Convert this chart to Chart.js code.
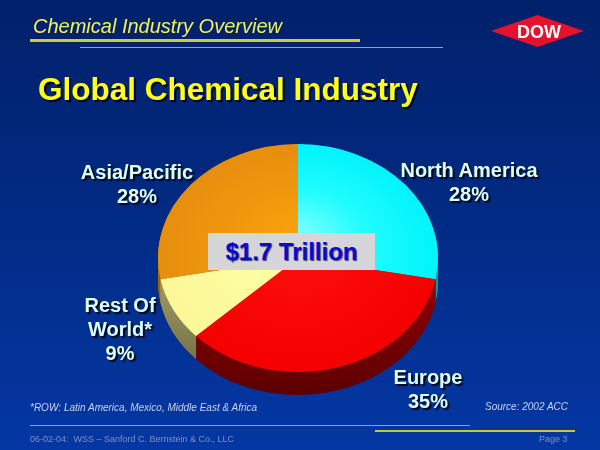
<!DOCTYPE html>
<html><head><meta charset="utf-8">
<script src="https://cdn.jsdelivr.net/npm/chart.js@4.4.1/dist/chart.umd.min.js"></script>
<style>
html,body{margin:0;padding:0;}
body{width:600px;height:450px;overflow:hidden;position:relative;
  background:linear-gradient(to bottom,#01206a 0%,#022b85 50%,#0437a4 100%);
  font-family:"Liberation Sans",Arial,sans-serif;}
#c{position:absolute;left:0;top:0;}
.abs{position:absolute;white-space:nowrap;}
.lbl{position:absolute;white-space:pre;text-align:center;transform:translateX(-50%);
  font-weight:bold;font-size:20px;line-height:24px;color:#dcffff;
  text-shadow:2px 2px 1px rgba(0,0,0,0.85);}
.hline{position:absolute;}
</style>
</head><body>
<canvas id="c" width="600" height="450"></canvas>

<div class="abs" style="left:33px;top:16px;font-size:20px;line-height:20px;font-style:italic;color:#f2f25a;">Chemical Industry Overview</div>
<div class="hline" style="left:30px;top:39px;width:330px;height:3px;background:#cdcd30;"></div>
<div class="hline" style="left:80px;top:47px;width:363px;height:1px;background:#8aa0dc;"></div>

<svg class="abs" style="left:0;top:0;" width="600" height="60">
  <polygon points="491,31 537.5,15 584,31 537.5,47" fill="#e4122c"/>
  <text x="539" y="37.5" text-anchor="middle" font-family="Liberation Sans, Arial" font-weight="bold" font-size="18" fill="#ffffff">DOW</text>
</svg>

<div class="abs" style="left:38px;top:73px;font-size:31.5px;line-height:32px;font-weight:bold;color:#ffff1a;text-shadow:2px 2px 1px rgba(0,0,0,0.85);">Global Chemical Industry</div>

<div id="labels"></div>

<div class="abs" id="totalBox" style="left:208px;top:233px;width:167px;height:37px;background:#d6d6d8;text-align:center;font-size:24px;line-height:37px;font-weight:bold;color:#0b0bd0;text-shadow:1px 1px 1px rgba(0,0,60,0.7);"></div>

<div class="abs" style="left:30px;top:402px;font-size:10px;line-height:12px;font-style:italic;color:#c8d4f4;">*ROW: Latin America, Mexico, Middle East &amp; Africa</div>
<div class="abs" style="left:485px;top:401px;font-size:10px;line-height:12px;font-style:italic;color:#c8d4f4;">Source: 2002 ACC</div>

<div class="hline" style="left:30px;top:425px;width:440px;height:1px;background:#8aa0dc;"></div>
<div class="hline" style="left:375px;top:430px;width:200px;height:2px;background:#c8c830;"></div>
<div class="abs" style="left:30px;top:434px;font-size:9px;line-height:10px;color:#7f90c4;">06-02-04:&nbsp; WSS – Sanford C. Bernstein &amp; Co., LLC</div>
<div class="abs" style="left:539px;top:434px;font-size:9px;line-height:10px;color:#7f90c4;">Page 3</div>

<script>
// ---- data ----
const categories = ['North America', 'Europe', 'Rest Of\nWorld*', 'Asia/Pacific'];
const shares = [28, 35, 9, 28];
const totalLabel = '$1.7 Trillion';

// ---- styles ----
const faceColors = ['#00f8fc', '#ff0202', '#ffffa0', '#f29a0c'];
const sideColors = ['#00a8b0', '#9a0000', '#aaa468', '#b06a00'];
const labelPos = [
  {x: 469, top: 158},
  {x: 428, top: 365},
  {x: 120, top: 293},
  {x: 137, top: 160}
];
const TILT = 0.814;
const DEPTH = 23;

document.getElementById('totalBox').textContent = totalLabel;
const lblHost = document.getElementById('labels');
categories.forEach((c, i) => {
  const d = document.createElement('div');
  d.className = 'lbl';
  d.style.left = labelPos[i].x + 'px';
  d.style.top = labelPos[i].top + 'px';
  d.textContent = c + '\n' + shares[i] + '%';
  lblHost.appendChild(d);
});

function shade(hex, f) {
  const n = parseInt(hex.slice(1), 16);
  const r = Math.round(((n >> 16) & 255) * f), g = Math.round(((n >> 8) & 255) * f), b = Math.round((n & 255) * f);
  return `rgb(${r},${g},${b})`;
}

const pie3d = {
  id: 'pie3d',
  beforeDatasetsDraw(chart) {
    const ctx = chart.ctx;
    const arcs = chart.getDatasetMeta(0).data;
    const cx = arcs[0].x, cy = arcs[0].y;
    ctx.save();
    ctx.translate(cx, cy); ctx.scale(1, TILT); ctx.translate(-cx, -cy);
    const dPre = DEPTH / TILT;
    for (let d = dPre; d > 0; d -= 0.5) {
      arcs.forEach((a, i) => {
        const g = ctx.createLinearGradient(0, cy, 0, cy + a.outerRadius + dPre);
        g.addColorStop(0, sideColors[i]);
        g.addColorStop(1, shade(sideColors[i], 0.6));
        ctx.beginPath();
        ctx.moveTo(cx, cy + d);
        ctx.arc(cx, cy + d, a.outerRadius, a.startAngle, a.endAngle);
        ctx.closePath();
        ctx.fillStyle = g;
        ctx.fill();
      });
    }
  },
  afterDatasetsDraw(chart) {
    chart.ctx.restore();
  }
};

function faceFill(ctx) {
  const chart = ctx.chart, area = chart.chartArea;
  const i = ctx.dataIndex;
  if (!area) return faceColors[i];
  const cx = (area.left + area.right) / 2, cy = (area.top + area.bottom) / 2;
  const r = Math.min(area.right - area.left, area.bottom - area.top) / 2;
  const g = chart.ctx.createRadialGradient(cx, cy - r * 0.2, 0, cx, cy, r);
  if (i === 0) { g.addColorStop(0, '#80ffff'); g.addColorStop(0.5, '#20fcff'); g.addColorStop(1, '#00f4fa'); }
  else if (i === 3) { g.addColorStop(0, '#f8a20c'); g.addColorStop(1, '#e68e0e'); }
  else if (i === 1) { g.addColorStop(0, '#ff1010'); g.addColorStop(1, '#f40000'); }
  else { g.addColorStop(0, '#ffffaa'); g.addColorStop(1, '#fcf898'); }
  return g;
}

new Chart(document.getElementById('c'), {
  type: 'pie',
  data: {
    labels: categories,
    datasets: [{
      data: shares,
      backgroundColor: faceFill,
      borderWidth: 0
    }]
  },
  options: {
    responsive: false,
    animation: false,
    events: [],
    layout: { padding: { left: 158, right: 162, top: 118, bottom: 52 } },
    plugins: { legend: { display: false }, tooltip: { enabled: false } }
  },
  plugins: [pie3d]
});
</script>
</body></html>
